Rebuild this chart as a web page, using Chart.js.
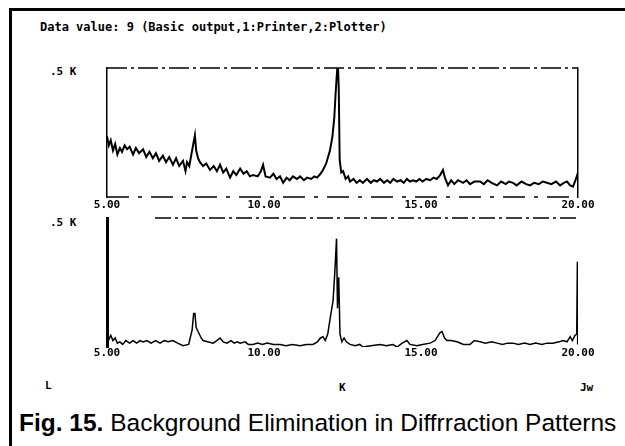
<!DOCTYPE html>
<html>
<head>
<meta charset="utf-8">
<script src="https://cdn.jsdelivr.net/npm/chart.js@4/dist/chart.umd.min.js"></script>
<style>
  html, body { margin: 0; padding: 0; background: #fff; }
  #page { position: relative; width: 625px; height: 446px; overflow: hidden; }
  #frame { position: absolute; left: 9px; top: 8px; width: 630px; height: 450px;
           border-top: 3px solid #000; border-left: 3px solid #000; }
  canvas { position: absolute; }
  .px { position: absolute; font-family: "DejaVu Sans Mono", monospace; font-weight: bold;
        font-size: 11px; color: #000; white-space: pre; }
  #caption { position: absolute; left: 19px; top: 409px; font-family: "Liberation Sans", Arial, sans-serif;
             font-size: 24.5px; color: #000; white-space: nowrap; }
</style>
</head>
<body>
<div id="page">
  <div id="frame"></div>
  <div class="px" style="left:40px;top:20px;font-size:12px;">Data value: 9 (Basic output,1:Printer,2:Plotter)</div>
  <div class="px" style="left:50px;top:65px;">.5 K</div>
  <div class="px" style="left:50px;top:216px;">.5 K</div>
  <div class="px" style="left:45px;top:379px;">L</div>
  <div class="px" style="left:339px;top:381px;">K</div>
  <div class="px" style="left:580px;top:381px;">Jw</div>
  <canvas id="top" width="520" height="160" style="left:90px;top:60px;"></canvas>
  <canvas id="bottom" width="520" height="160" style="left:90px;top:210px;"></canvas>
  <div id="caption"><b>Fig. 15.</b> Background Elimination in Diffrraction Patterns</div>
</div>
<script>
// x axis ticks (diffraction angle) and their printed labels
const xTicks = [5, 10, 15, 20];
const xLabels = ["5.00", "10.00", "15.00", "20.00"];

// upper trace: raw pattern (relative intensity, full scale = 1)
const rawX = [5.00, 5.06, 5.12, 5.19, 5.26, 5.33, 5.41, 5.48, 5.56, 5.64, 5.72, 5.83, 5.92, 6.02, 6.15, 6.25,
  6.35, 6.46, 6.56, 6.66, 6.78, 6.88, 6.98, 7.10, 7.20, 7.30, 7.42, 7.50, 7.55, 7.62, 7.80, 7.84, 7.90, 7.96,
  8.06, 8.16, 8.28, 8.40, 8.50, 8.60, 8.70, 8.80, 8.92, 9.02, 9.12, 9.24, 9.35, 9.45, 9.55, 9.65, 9.80, 9.90,
  9.97, 10.05, 10.19, 10.30, 10.40, 10.51, 10.61, 10.72, 10.82, 10.92, 11.05, 11.15, 11.27, 11.37, 11.50,
  11.60, 11.69, 11.80, 11.88, 11.98, 12.10, 12.18, 12.24, 12.28, 12.32, 12.35, 12.38, 12.41, 12.46, 12.52,
  12.60, 12.68, 12.74, 12.85, 12.95, 13.05, 13.15, 13.28, 13.40, 13.50, 13.60, 13.70, 13.82, 13.92, 14.02,
  14.12, 14.24, 14.35, 14.45, 14.55, 14.65, 14.75, 14.85, 14.95, 15.05, 15.17, 15.29, 15.40, 15.50, 15.61,
  15.70, 15.76, 15.86, 15.96, 16.06, 16.18, 16.34, 16.45, 16.56, 16.70, 16.88, 17.00, 17.12, 17.25, 17.42,
  17.55, 17.70, 17.80, 17.93, 18.05, 18.20, 18.35, 18.47, 18.60, 18.75, 18.88, 19.01, 19.15, 19.30, 19.43,
  19.55, 19.65, 19.75, 19.84, 19.92, 20.00];
const rawY = [0.47, 0.40, 0.44, 0.36, 0.41, 0.33, 0.38, 0.35, 0.40, 0.37, 0.39, 0.33, 0.38, 0.34, 0.37, 0.31,
  0.35, 0.30, 0.34, 0.28, 0.32, 0.27, 0.31, 0.25, 0.30, 0.24, 0.28, 0.20, 0.27, 0.24, 0.48, 0.36, 0.30, 0.27,
  0.24, 0.26, 0.21, 0.24, 0.20, 0.25, 0.19, 0.22, 0.15, 0.20, 0.17, 0.22, 0.18, 0.20, 0.16, 0.17, 0.16, 0.20,
  0.25, 0.16, 0.15, 0.18, 0.14, 0.16, 0.11, 0.15, 0.13, 0.16, 0.14, 0.16, 0.13, 0.15, 0.14,
  0.16, 0.15, 0.18, 0.21, 0.26, 0.36, 0.47, 0.62, 0.80, 0.95, 1.05, 0.85, 0.29, 0.19, 0.20,
  0.14, 0.16, 0.12, 0.14, 0.11, 0.13, 0.11, 0.14, 0.11, 0.13, 0.12, 0.14, 0.11, 0.13, 0.11,
  0.14, 0.12, 0.13, 0.11, 0.14, 0.12, 0.13, 0.12, 0.14, 0.12, 0.14, 0.13, 0.15, 0.14, 0.17,
  0.21, 0.15, 0.09, 0.13, 0.10, 0.13, 0.11, 0.13, 0.10, 0.12, 0.12, 0.10, 0.13, 0.11, 0.09,
  0.12, 0.10, 0.12, 0.11, 0.09, 0.12, 0.10, 0.09, 0.11, 0.10, 0.12, 0.11, 0.10, 0.12, 0.09,
  0.11, 0.12, 0.09, 0.08, 0.13, 0.19];

// lower trace: pattern after background elimination
const corrX = [5.00, 5.02, 5.06, 5.12, 5.19, 5.26, 5.33, 5.41, 5.50, 5.60, 5.72, 5.83, 5.95, 6.05, 6.15, 6.27,
  6.40, 6.55, 6.69, 6.82, 6.95, 7.10, 7.25, 7.42, 7.60, 7.71, 7.76, 7.80, 7.84, 7.90, 8.00, 8.06, 8.20, 8.38,
  8.50, 8.60, 8.70, 8.82, 8.95, 9.05, 9.15, 9.24, 9.40, 9.50, 9.65, 9.80, 9.95, 10.10, 10.30, 10.51, 10.70,
  10.90, 11.15, 11.35, 11.56, 11.70, 11.80, 11.88, 11.95, 12.03, 12.10, 12.20, 12.26, 12.31, 12.34, 12.38,
  12.42, 12.48, 12.55, 12.62, 12.74, 12.90, 13.05, 13.15, 13.40, 13.70, 13.90, 14.10, 14.24, 14.40, 14.55,
  14.65, 14.87, 15.05, 15.29, 15.45, 15.60, 15.67, 15.75, 15.83, 15.95, 16.15, 16.35, 16.56, 16.70, 16.88,
  17.05, 17.25, 17.42, 17.60, 17.75, 17.93, 18.10, 18.30, 18.47, 18.65, 18.85, 19.01, 19.20, 19.40, 19.52,
  19.65, 19.75, 19.82, 19.90, 19.96, 19.98, 19.99];
const corrY = [1.05, 0.10, 0.06, 0.09, 0.05, 0.07, 0.03, 0.04, 0.02, 0.05, 0.03, 0.05, 0.03, 0.05, 0.04, 0.05,
  0.03, 0.05, 0.03, 0.05, 0.04, 0.05, 0.03, 0.01, 0.02, 0.13, 0.26, 0.26, 0.15, 0.12, 0.07, 0.05, 0.04, 0.03,
  0.05, 0.07, 0.04, 0.03, 0.05, 0.03, 0.04, 0.03, 0.04, 0.02, 0.02, 0.03, 0.02, 0.03, 0.02, 0.02, 0.01,
  0.02, 0.01, 0.02, 0.02, 0.04, 0.07, 0.08, 0.05, 0.10, 0.21, 0.36, 0.60, 0.84, 0.30, 0.54,
  0.10, 0.04, 0.07, 0.04, 0.02, 0.01, 0.02, 0.00, 0.01, 0.02, 0.01, 0.02, 0.00, 0.03, 0.05,
  0.02, 0.01, 0.02, 0.03, 0.05, 0.11, 0.12, 0.07, 0.05, 0.05, 0.04, 0.02, 0.02, 0.05, 0.04,
  0.03, 0.04, 0.03, 0.02, 0.03, 0.03, 0.02, 0.03, 0.02, 0.03, 0.02, 0.03, 0.03, 0.04, 0.05,
  0.04, 0.08, 0.05, 0.09, 0.10, 0.66, 0.02];

const tickFont = { family: "DejaVu Sans Mono", size: 11, weight: "bold" };

function toPoints(xs, ys) {
  return xs.map((x, i) => ({ x, y: ys[i] }));
}

// the plotter drew the horizontal frame lines dashed; axis borders can't dash, so draw them here
const dashedFrame = {
  id: "dashedFrame",
  beforeDatasetsDraw(chart, args, o) {
    const { ctx, chartArea: a } = chart;
    ctx.save();
    ctx.strokeStyle = "#000";
    ctx.lineWidth = 1.5;
    (o.lines || []).forEach((l) => {
      const y = l.side === "top" ? a.top : a.bottom;
      ctx.setLineDash(l.dash);
      ctx.beginPath();
      ctx.moveTo(a.left + (l.skip || 0), y);
      ctx.lineTo(a.right, y);
      ctx.stroke();
    });
    ctx.restore();
  },
};

function sideAxis(pos, border) {
  return {
    type: "linear",
    position: pos,
    min: 0,
    max: 1,
    ticks: { display: false },
    grid: { display: false, drawTicks: false },
    border: Object.assign({ color: "#000", width: 1.5 }, border),
    afterFit: (s) => { s.width = 0; },
  };
}

function makeChart(id, xs, ys, opts) {
  const ctx = document.getElementById(id).getContext("2d");
  return new Chart(ctx, {
    type: "line",
    data: {
      datasets: [{
        data: toPoints(xs, ys),
        borderColor: "#000",
        borderWidth: opts.lineWidth,
        pointRadius: 0,
        tension: 0,
        fill: false,
      }],
    },
    plugins: [dashedFrame],
    options: {
      responsive: false,
      animation: false,
      devicePixelRatio: 1,
      layout: { padding: { left: 17, right: 32, top: 8, bottom: 0 } },
      plugins: {
        legend: { display: false },
        tooltip: { enabled: false },
        dashedFrame: { lines: opts.frame },
      },
      scales: {
        x: {
          type: "linear",
          min: 5,
          max: 20,
          afterBuildTicks: (s) => { s.ticks = xTicks.map((v) => ({ value: v })); },
          ticks: {
            callback: (v) => xLabels[xTicks.indexOf(v)],
            font: tickFont,
            color: "#000",
            padding: opts.tickPad,
            maxRotation: 0,
            autoSkip: false,
          },
          grid: { display: false, drawTicks: false },
          border: { display: false },
          afterFit: (s) => { s.height = 23; },
        },
        y: sideAxis("left", { width: opts.leftWidth }),
        yRight: sideAxis("right", { display: opts.rightBorder }),
      },
    },
  });
}

makeChart("top", rawX, rawY, {
  lineWidth: 2,
  tickPad: 2,
  leftWidth: 1.5,
  rightBorder: true,
  frame: [
    { side: "top", dash: [20, 4, 3, 4] },
    { side: "bottom", dash: [22, 9, 4, 9] },
  ],
});

makeChart("bottom", corrX, corrY, {
  lineWidth: 1.5,
  tickPad: 0,
  leftWidth: 3,
  rightBorder: false,
  frame: [
    { side: "top", dash: [16, 4, 3, 4], skip: 48 },
  ],
});
</script>
</body>
</html>
